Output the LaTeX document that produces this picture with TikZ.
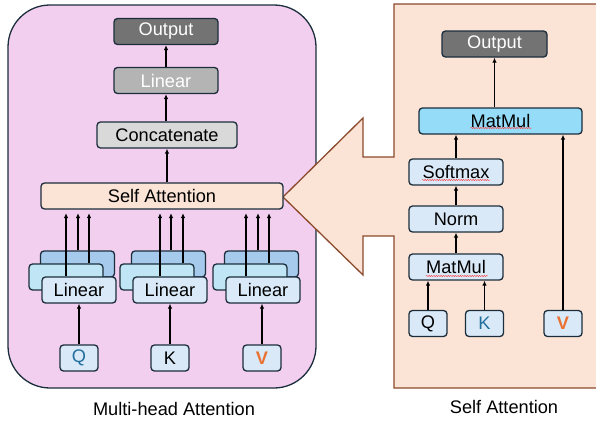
\documentclass[tikz,border=0pt]{standalone}
\usepackage{fontspec}
\setmainfont{Liberation Sans}
\usetikzlibrary{arrows.meta,decorations.pathmorphing}

\definecolor{panelpink}{HTML}{F2CEEF}
\definecolor{panelpeach}{HTML}{FBE3D6}
\definecolor{edgenavy}{HTML}{1C2E3C}
\definecolor{edgebrown}{HTML}{8B4A2B}
\definecolor{outgray}{HTML}{737373}
\definecolor{lingray}{HTML}{B4B4B4}
\definecolor{catgray}{HTML}{D9D9D9}
\definecolor{blueback}{HTML}{A6CAEC}
\definecolor{bluemid}{HTML}{C0E6F5}
\definecolor{bluefront}{HTML}{DAE9F7}
\definecolor{matblue}{HTML}{94DCF8}
\definecolor{qblue}{HTML}{1F6E9E}
\definecolor{vorange}{HTML}{E97132}

\begin{document}
\begin{tikzpicture}[x=1pt,y=-1pt,
		block/.style={draw=edgenavy,line width=1.3pt,rounded corners=3.5pt,inner sep=0pt,
			minimum height=26pt,font=\fontsize{18.2}{21}\selectfont},
		letterbox/.style={block,fill=bluefront,minimum width=38pt,minimum height=26pt},
		flow/.style={-{Latex[length=5pt,width=4.5pt]},line width=1.2pt},
		squiggle/.style={red!75,line width=0.45pt,decorate,
			decoration={snake,amplitude=0.6pt,segment length=2.4pt}}
		]
		\useasboundingbox (0,0) rectangle (596,423);

		% panels
		\draw[fill=panelpink,draw=edgenavy,line width=1.3pt,rounded corners=42pt]
		(8,5) rectangle (316,388);
		\draw[fill=panelpeach,draw=edgebrown,line width=1.3pt]
		(600,4) -- (394,4) -- (394,157) -- (363,157) -- (363,118) -- (283,197)
		-- (363,275) -- (363,236) -- (394,236) -- (394,388) -- (600,388);

		% multi-head side
		\node[block,fill=outgray,text=white,minimum width=104pt](outL) at (166,31.5){Output};
		\node[block,fill=lingray,text=white,minimum width=104pt](linL) at (166,80.5){Linear};
		\node[block,fill=catgray,minimum width=140pt](concat) at (167,135){Concatenate};
		\node[block,fill=panelpeach,minimum width=242pt](selfatt) at (162,196){Self Attention};

		\draw[flow] (linL.north) -- (outL.south);
		\draw[flow] (concat.north -| linL.south) -- (linL.south);
		\draw[flow] (selfatt.north -| concat.south) -- (concat.south);

		\foreach \cx/\a/\b/\c/\n in {79/66/78/89/q, 170/160/171/183/k, 263/246/258/269/v}{
			\node[block,fill=blueback,minimum width=74pt](back\n) at (\cx-1.5,264){};
			\node[block,fill=bluemid,minimum width=74pt](mid\n) at (\cx-13,277){};
			\node[block,fill=bluefront,minimum width=74pt](lin\n) at (\cx,290){Linear};
			\coordinate (pa\n) at (\a,0);
			\coordinate (pb\n) at (\b,0);
			\coordinate (pc\n) at (\c,0);
			\draw[flow,shorten >=3.5pt] (lin\n.north -| pa\n) -- (selfatt.south -| pa\n);
			\draw[flow,shorten >=3.5pt] (back\n.north -| pb\n) -- (selfatt.south -| pb\n);
			\draw[flow,shorten >=3.5pt] (mid\n.north -| pc\n) -- (selfatt.south -| pc\n);
		}

		\node[letterbox](qL) at (79,358){\textcolor{qblue}{Q}};
		\node[letterbox](kL) at (170,358){K};
		\node[letterbox](vL) at (262,358){\textcolor{vorange}{\bfseries V}};
		\draw[flow] (qL.north) -- (linq.south);
		\draw[flow] (kL.north) -- (linq.south -| kL.north);
		\draw[flow] (vL.north) -- (linv.south -| vL.north);

		\node[font=\fontsize{18.2}{21}\selectfont](capL) at (174,409){Multi-head Attention};

		% single head side
		\node[block,fill=outgray,text=white,minimum width=105pt](outR) at (494.5,44){Output};
		\node[block,fill=matblue,minimum width=163pt](matTop) at (500.5,121){MatMul};
		\node[block,fill=bluefront,minimum width=94pt](soft) at (456,172){Softmax};
		\node[block,fill=bluefront,minimum width=94pt](norm) at (456,219){Norm};
		\node[block,fill=bluefront,minimum width=94pt](matBot) at (456,267){MatMul};
		\node[letterbox](qR) at (428,323.5){Q};
		\node[letterbox](kR) at (484.5,323.5){\textcolor{qblue}{K}};
		\node[letterbox](vR) at (563,323.5){\textcolor{vorange}{\bfseries V}};

		\draw[flow] (matTop.north -| outR.south) -- (outR.south);
		\draw[flow] (soft.north) -- (soft.north |- matTop.south);
		\draw[flow] (vR.north) -- (vR.north |- matTop.south);
		\draw[flow] (norm.north) -- (soft.south);
		\draw[flow] (matBot.north) -- (norm.south);
		\draw[flow] (qR.north) -- (qR.north |- matBot.south);
		\draw[flow] (kR.north) -- (kR.north |- matBot.south);

		% spell-check marks
		\draw[squiggle] ([xshift=-30pt,yshift=-7pt]matTop.center) -- ([xshift=31pt,yshift=-7pt]matTop.center);
		\draw[squiggle] ([xshift=-34pt,yshift=-8pt]soft.center) -- ([xshift=34pt,yshift=-8pt]soft.center);
		\draw[squiggle] ([xshift=-30pt,yshift=-9pt]matBot.center) -- ([xshift=32pt,yshift=-9pt]matBot.center);

		\node[font=\fontsize{18.2}{21}\selectfont](capR) at (504,407){Self Attention};
	\end{tikzpicture}
\end{document}
